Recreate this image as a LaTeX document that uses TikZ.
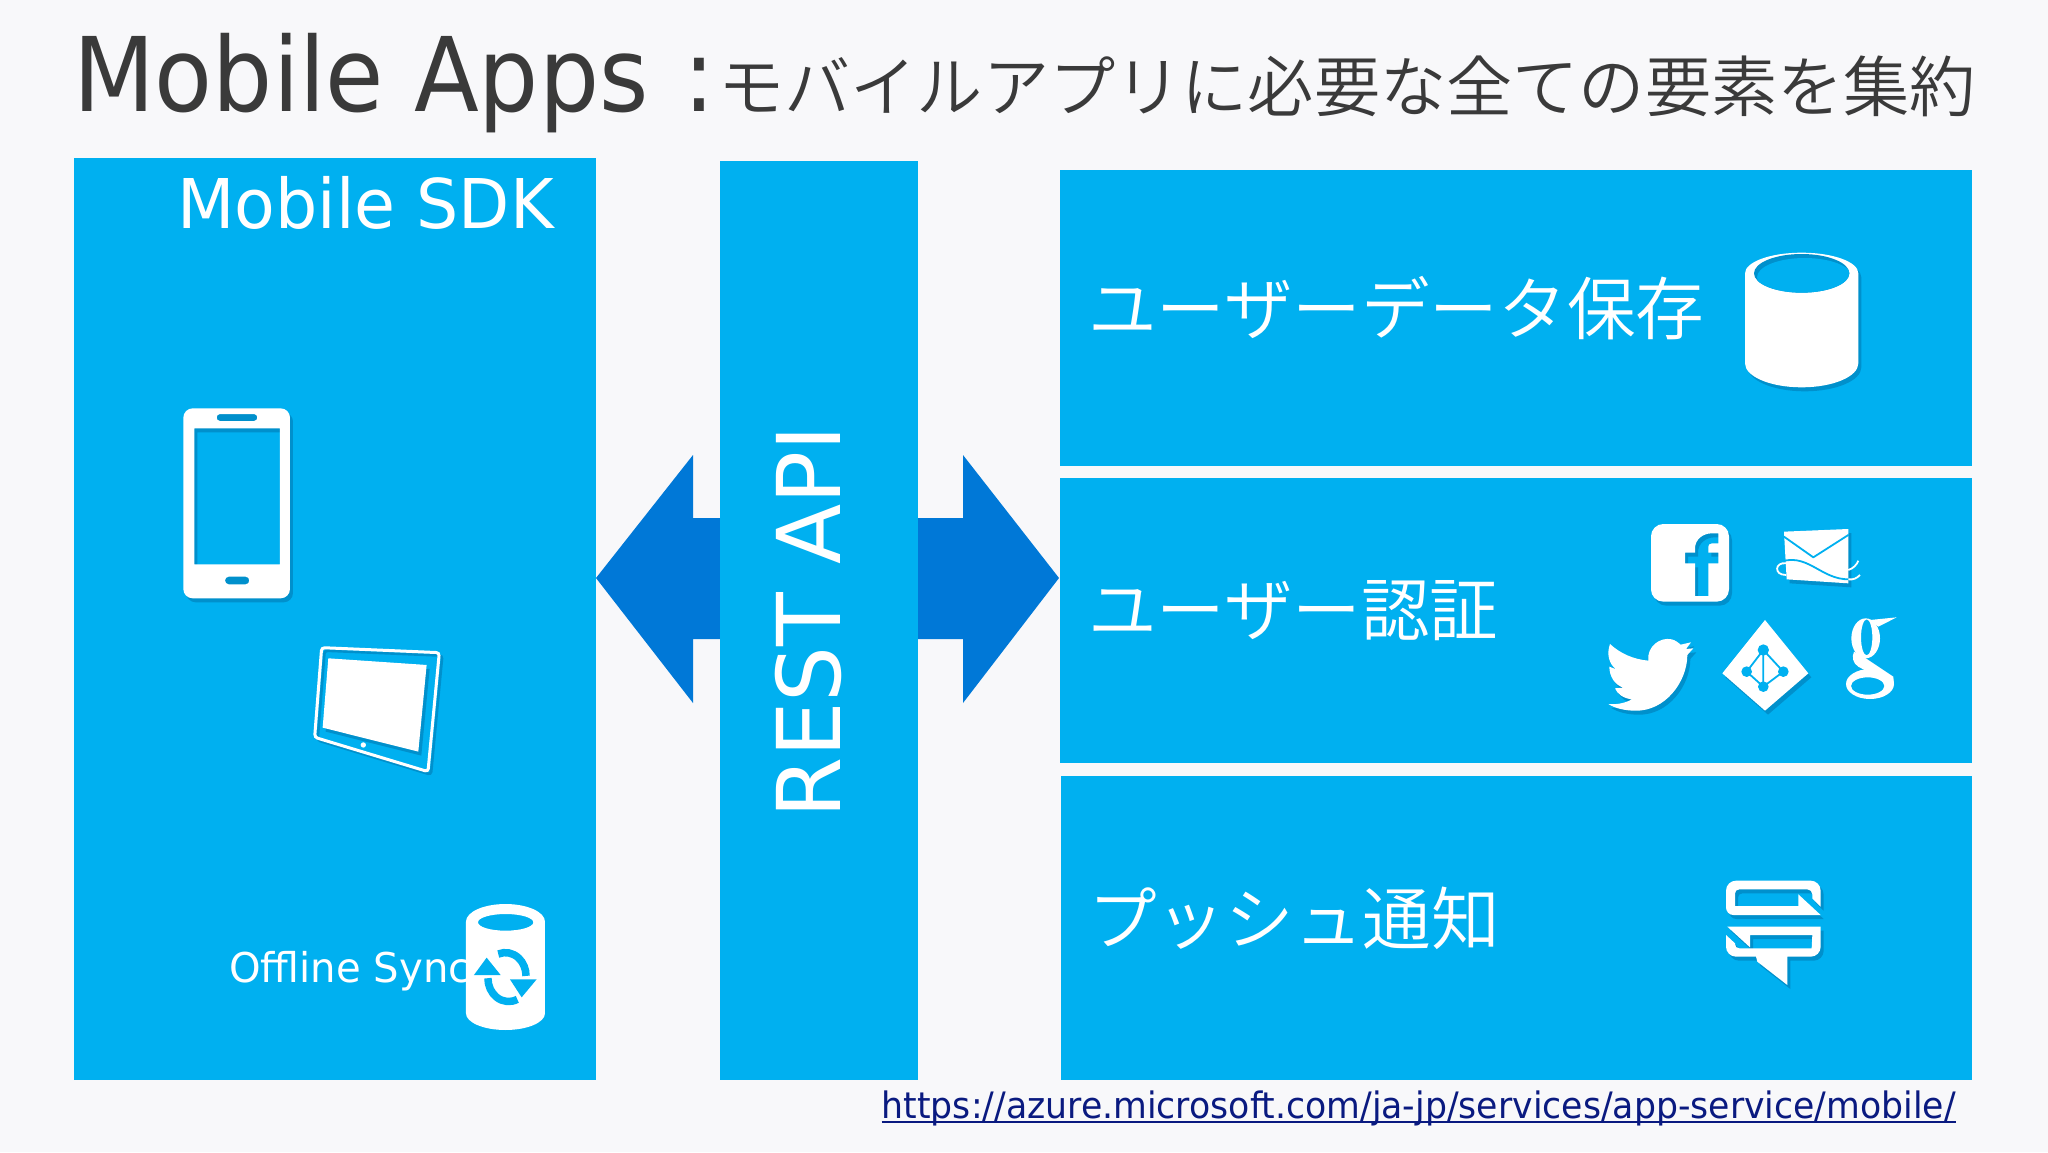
\documentclass[tikz,border=0pt]{standalone}
\usepackage{fontspec}
\setmainfont{DejaVu Sans}
\newfontfamily\jpfont{Noto Sans CJK JP DemiLight}
\usetikzlibrary{shadows}
\definecolor{panelblue}{HTML}{00B0F0}
\definecolor{arrowblue}{HTML}{0078D7}
\definecolor{shadeblue}{HTML}{0090CC}
\definecolor{pagegray}{HTML}{F8F8FA}
\definecolor{titlegray}{HTML}{3A3A3A}
\definecolor{linknavy}{HTML}{0A1A80}
\tikzset{
  panel/.style={fill=panelblue, inner sep=0pt, anchor=north west},
  label/.style={white, inner sep=0pt, anchor=west},
  icon/.style={fill=white, even odd rule, general shadow={shadow xshift=3pt, shadow yshift=-4pt, fill=shadeblue}},
  cutout/.style={draw=panelblue, line width=1.8pt, line cap=round, line join=round},
}
\newcommand{\sized}[2]{\addfontfeature{FakeStretch=#2}\fontsize{#1}{#1}\selectfont}
\newcommand{\jpsized}[1]{\jpfont\fontsize{#1}{#1}\selectfont}
\begin{document}
\begin{tikzpicture}[x=1pt, y=-1pt]
\useasboundingbox[fill=pagegray] (0,0) rectangle (2048,1152);

% title
\node[inner sep=0pt, anchor=base west, titlegray] (title) at (73,111) {\sized{103}{0.92}Mobile Apps};
\node[inner sep=0pt, anchor=base, titlegray] (colon) at (699,111) {\sized{103}{0.915}:};
\node[inner sep=0pt, anchor=west, titlegray] (subtitle) at (718,86) {\jpsized{66.2}モバイルアプリに必要な全ての要素を集約};

% block arrows go under the panels
\fill[arrowblue] (596,578) -- (693,455) -- (693,518) -- (963,518) -- (963,455) -- (1059,578) -- (963,703) -- (963,639) -- (693,639) -- (693,703) -- cycle;

% panels
\node[panel, minimum width=522pt, minimum height=922pt] (sdk) at (74,158) {};
\node[panel, minimum width=198pt, minimum height=919pt] (rest) at (720,161) {};
\node[panel, minimum width=912pt, minimum height=296pt] (store) at (1060,170) {};
\node[panel, minimum width=912pt, minimum height=285pt] (auth) at (1060,478) {};
\node[panel, minimum width=911pt, minimum height=304pt] (push) at (1061,776) {};

% labels
\node[white, inner sep=0pt, anchor=base west] (sdktext) at (177,228) {\sized{68.6}{0.97}Mobile SDK};
\node[white, inner sep=0pt, anchor=base west] (synctext) at (229,982) {\sized{41}{0.98}Offline Sync};
\node[white, inner sep=0pt, anchor=base, rotate=90] (resttext) at (840,622) {\sized{88}{1.0}REST API};
\node[label] (storetext) at (1088,308) {\jpsized{68.6}ユーザーデータ保存};
\node[label] (authtext) at (1088,611) {\jpsized{68.6}ユーザー認証};
\node[label] (pushtext) at (1088,918) {\jpsized{68.6}プッシュ通知};
\node[inner sep=0pt, anchor=base east, linknavy] (link) at (1956,1118) {\sized{36.4}{0.953}https://azure.microsoft.com/ja-jp/services/app-service/mobile/};
\draw[linknavy, line width=1.6pt] ([yshift=-4pt]link.base west) -- ([yshift=-4pt]link.base east);

% phone
\begin{scope}[shift={(150,380)}, x=0.3333pt, y=-0.3333pt]
\fill[icon] (128,85) -- (392,85) to[out=0, in=90] (420,113) -- (420,627) to[out=-90, in=0] (392,655) -- (128,655) to[out=180, in=-90] (100,627) -- (100,113) to[out=90, in=180] cycle
  (133,145) rectangle (390,553)
  (210,102) -- (312,102) to[out=0, in=0, looseness=1.6] (312,123) -- (210,123) to[out=180, in=180, looseness=1.6] cycle
  (236,590) -- (287,590) to[out=0, in=0, looseness=1.6] (287,613) -- (236,613) to[out=180, in=180, looseness=1.6] cycle;
\end{scope}

% tablet
\begin{scope}[shift={(150,380)}, x=0.3333pt, y=-0.3333pt]
\draw[shadeblue, line width=2.6pt, rounded corners=3pt, xshift=3pt, yshift=-3pt] (515,803) -- (868,818) -- (834,1175) -- (494,1072) -- cycle;
\draw[white, line width=3pt, rounded corners=3pt] (515,803) -- (868,818) -- (834,1175) -- (494,1072) -- cycle;
\fill[icon] (535,835) -- (830,855) -- (805,1115) -- (518,1043) -- cycle;
\fill[white] (640,1095) circle (8);
\end{scope}

% synced database
\begin{scope}[shift={(220,890)}, x=0.3333pt, y=-0.3333pt]
\fill[white, even odd rule] (738,95) arc[start angle=180, end angle=360, x radius=118.5, y radius=53] -- (975,370) arc[start angle=0, end angle=180, x radius=118.5, y radius=50] -- cycle
  (857,97) ellipse (83 and 25);
\draw[panelblue, line width=7.5pt] (835,192) arc[start angle=-110, end angle=0, x radius=62, y radius=70];
\draw[panelblue, line width=7.5pt] (892,328) arc[start angle=65, end angle=180, x radius=62, y radius=70];
\fill[panelblue] (762,255) -- (800,203) -- (842,255) -- cycle;
\fill[panelblue] (870,268) -- (950,268) -- (905,322) -- cycle;
\end{scope}

% database
\begin{scope}[shift={(1720,240)}, x=0.3333pt, y=-0.3333pt]
\fill[icon] (75,100) arc[start angle=180, end angle=360, x radius=170, y radius=62] -- (415,370) arc[start angle=0, end angle=180, x radius=170, y radius=72] -- cycle;
\fill[shadeblue] (245,100) ellipse (143 and 58);
\begin{scope}
\clip (245,100) ellipse (143 and 58);
\fill[panelblue] (254,112) ellipse (143 and 58);
\end{scope}
\end{scope}

% login icons
\begin{scope}[shift={(1580,500)}, x=0.3333pt, y=-0.3333pt]
\fill[icon] (250,72) -- (410,72) to[out=0, in=90] (447,109) -- (447,268) to[out=-90, in=0] (410,305) -- (250,305) to[out=180, in=-90] (213,268) -- (213,109) to[out=90, in=180] cycle
  (345,288) -- (385,288) -- (385,190) -- (415,190) -- (415,158) -- (385,158) -- (385,140) to[out=90, in=180] (415,130) -- (415,100) -- (395,100) to[out=180, in=90] (345,145) -- (345,158) -- (315,158) -- (315,190) -- (345,190) -- cycle;
% mail
\fill[icon] (612,95) -- (805,87) -- (805,250) -- (620,238) -- cycle;
\draw[cutout] (612,110) -- (700,172) -- (805,105);
\draw[cutout] (590,190) .. controls (680,150) and (720,240) .. (808,238);
\draw[white, line width=1.8pt] (618,190) .. controls (585,185) and (580,225) .. (618,225);
\draw[white, line width=1.8pt] (805,238) .. controls (820,240) and (830,235) .. (840,225);
\draw[white, line width=1.8pt] (805,210) .. controls (820,205) and (830,195) .. (835,182);
% bird
\fill[icon] (90,432) .. controls (120,460) and (160,478) .. (205,482) .. controls (200,440) and (240,410) .. (275,418) .. controls (285,420) and (295,428) .. (302,434) -- (333,427) -- (318,447) -- (340,445) -- (322,465) .. controls (322,545) and (255,635) .. (165,632) .. controls (135,632) and (105,625) .. (85,612) .. controls (110,615) and (140,608) .. (155,598) .. controls (130,595) and (112,582) .. (105,565) -- (130,563) .. controls (105,555) and (88,530) .. (88,500) -- (108,508) .. controls (85,490) and (80,460) .. (90,432) -- cycle;
% directory
\fill[icon] (555,360) -- (685,520) -- (555,632) -- (427,520) -- cycle;
\draw[cutout] (500,515) -- (550,450) -- (610,515) -- (550,560) -- cycle (550,450) -- (550,560);
\fill[panelblue] (550,450) circle (17) (500,515) circle (16) (610,515) circle (16) (550,560) circle (16);
\end{scope}

% google
\begin{scope}[shift={(1830,610)}, x=0.3333pt, y=-0.3333pt]
\fill[white, even odd rule] (107,85) ellipse (43 and 60) (110,82) ellipse (17 and 54);
\fill[white] (120,30) -- (200,22) -- (145,50) -- cycle;
\fill[white] (72,125) -- (100,140) -- (190,200) -- (192,225) -- (150,205) -- (85,170) .. controls (68,160) and (65,140) .. (72,125) -- cycle;
\fill[white, even odd rule] (120,222) ellipse (72 and 45) (113,228) ellipse (50 and 26);
\end{scope}

% push
\begin{scope}[shift={(1700,860)}, x=0.3333pt, y=-0.3333pt]
\fill[icon] (100,165) -- (362,165) -- (295,103) -- (295,138) -- (105,138) -- (105,100) to[out=90, in=180] (118,88) -- (322,88) to[out=0, in=90] (337,103) -- (337,115) -- (362,140) -- (362,92) to[out=90, in=0] (332,62) -- (108,62) to[out=180, in=90] (78,92) -- (78,142) to[out=-90, in=180] cycle;
\fill[icon] (82,200) -- (362,200) -- (362,260) to[out=-90, in=0] (332,290) -- (262,290) -- (262,375) -- (172,305) -- (168,290) -- (108,290) to[out=180, in=-90] (78,260) -- (78,225) -- (105,250) -- (105,253) to[out=-90, in=180] (118,265) -- (335,265) -- (337,225) -- (150,225) -- (150,262) -- cycle;
\end{scope}
\end{tikzpicture}
\end{document}
